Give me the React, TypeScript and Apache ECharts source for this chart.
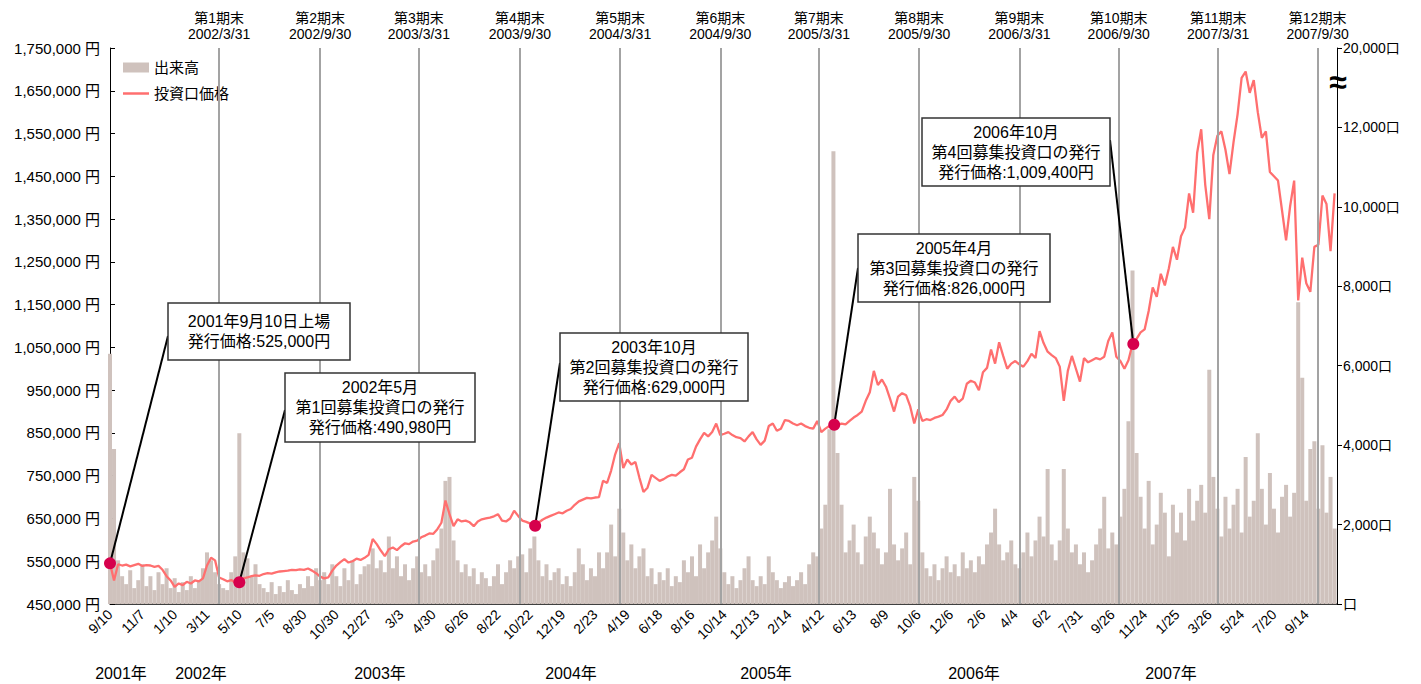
import React, { useEffect, useRef } from 'react';
import * as echarts from 'echarts';

const FONT = "'Liberation Sans','Noto Sans CJK JP',sans-serif";
const N_DAYS = 1518; // trading days on the axis
const STEP = 5; // sample every 5 trading days
const LABEL_EVERY = 40;

const tickLabels = [
  '9/10', '11/7', '1/10', '3/11', '5/10', '7/5', '8/30', '10/30', '12/27', '3/3',
  '4/30', '6/26', '8/22', '10/22', '12/19', '2/23', '4/19', '6/18', '8/16', '10/14',
  '12/13', '2/14', '4/12', '6/13', '8/9', '10/6', '12/6', '2/6', '4/4', '6/2',
  '7/31', '9/26', '11/24', '1/25', '3/26', '5/24', '7/20', '9/14',
];

const periodEndIdx = [135, 260, 382, 507, 631, 755, 877, 1001, 1125, 1248, 1371, 1494];
const periodNames = ['第1期末', '第2期末', '第3期末', '第4期末', '第5期末', '第6期末', '第7期末', '第8期末', '第9期末', '第10期末', '第11期末', '第12期末'];
const periodDates = ['2002/3/31', '2002/9/30', '2003/3/31', '2003/9/30', '2004/3/31', '2004/9/30', '2005/3/31', '2005/9/30', '2006/3/31', '2006/9/30', '2007/3/31', '2007/9/30'];

const yearLabels = ['2001年', '2002年', '2003年', '2004年', '2005年', '2006年', '2007年'];
const yearLabelX = [121, 201, 380, 571, 766, 974, 1171];

const rightTickLabels = ['口', '2,000口', '4,000口', '6,000口', '8,000口', '10,000口', '12,000口', '20,000口'];

// 投資口価格 (千円), sampled every 5 trading days
const priceK = [
  545, 505, 543, 540, 542, 538, 541, 544, 539, 541,
  540, 537, 539, 530, 515, 505, 490, 498, 494, 502,
  498, 505, 503, 510, 540, 558, 552, 512, 508, 503,
  506, 500, 501, 510, 512, 515, 517, 516, 520, 522,
  521, 524, 526, 527, 528, 530, 529, 531, 530, 533,
  528, 522, 514, 510, 512, 528, 540, 548, 555, 547,
  550, 556, 553, 558, 565, 602, 590, 575, 562, 578,
  582, 576, 585, 592, 590, 596, 598, 606, 610, 615,
  614, 625, 640, 692, 660, 632, 648, 643, 645, 641,
  632, 643, 648, 650, 652, 655, 660, 645, 643, 650,
  668, 656, 645, 642, 638, 633, 640, 647, 652, 656,
  660, 664, 662, 668, 672, 682, 690, 694, 698, 697,
  699, 700, 738, 733, 762, 800, 826, 768, 788, 776,
  782, 745, 712, 722, 752, 745, 738, 742, 748, 752,
  750, 758, 765, 788, 792, 818, 835, 850, 842, 852,
  872, 845, 848, 852, 845, 840, 838, 830, 842, 852,
  835, 822, 832, 866, 872, 855, 860, 880, 878, 872,
  868, 872, 866, 862, 860, 878, 852, 860, 866, 870,
  868, 872, 870, 878, 886, 892, 900, 925, 945, 995,
  962, 975, 958, 930, 900, 935, 943, 938, 912, 872,
  905, 878, 882, 880, 885, 888, 892, 905, 925, 935,
  922, 930, 965, 972, 968, 950, 992, 1002, 1045, 1012,
  1062, 1030, 1000, 1012, 1018, 1010, 1005, 1018, 1035, 1025,
  1088, 1060, 1040, 1032, 1025, 1005, 925, 995, 1030, 1000,
  970, 1025, 1015, 1020, 1025, 1022, 1028, 1065, 1085, 1028,
  1018, 1000, 1020, 1058, 1070, 1085, 1092, 1135, 1190, 1168,
  1222, 1195, 1235, 1285, 1255, 1310, 1330, 1410, 1365, 1505,
  1560, 1430, 1350, 1500, 1545, 1555, 1512, 1455, 1530, 1595,
  1680, 1695, 1645, 1675, 1600, 1540, 1555, 1460, 1450, 1440,
  1370, 1300, 1380, 1440, 1160, 1260, 1200, 1180, 1285, 1290,
  1405, 1385, 1275, 1410,
];

// 出来高 (口), sampled every 5 trading days
const volume = [
  6300, 3900, 1100, 700, 500, 850, 400, 600, 1000, 450,
  700, 350, 800, 500, 900, 400, 650, 300, 550, 350,
  700, 400, 600, 900, 1300, 1100, 800, 500, 400, 350,
  800, 1200, 4300, 1300, 1150, 700, 1000, 500, 400, 300,
  550, 250, 450, 300, 600, 350, 250, 500, 400, 700,
  450, 900, 600, 800, 500, 1000, 700, 450, 900, 600,
  1100, 500, 750, 950, 1000, 1400, 900, 1100, 800, 1700,
  900, 1200, 700, 1000, 600, 900, 1200, 800, 1000, 700,
  1100, 1400, 1900, 3100, 3200, 1600, 1100, 800, 1000, 700,
  900, 500, 800, 650, 450, 700, 1000, 500, 800, 1100,
  900, 1200, 1250, 800, 1400, 1700, 1100, 700, 1000, 600,
  800, 900, 500, 700, 450, 800, 1400, 1000, 600, 900,
  700, 1300, 900, 1300, 2000, 1200, 2400, 1800, 1100, 1500,
  900, 1200, 1400, 700, 900, 500, 800, 600, 900, 450,
  700, 550, 1100, 800, 1200, 700, 1500, 900, 1300, 1600,
  2200, 1400, 800, 500, 700, 400, 600, 900, 1200, 600,
  450, 700, 500, 1200, 800, 600, 400, 550, 700, 450,
  600, 800, 500, 1000, 1300, 1200, 1900, 2500, 4400, 11400,
  3800, 2500, 1300, 1600, 2000, 1300, 1000, 1700, 2200, 1800,
  1400, 1000, 1300, 2900, 1500, 1100, 1400, 1800, 1000, 3200,
  2600, 1300, 900, 700, 1000, 600, 900, 1200, 800, 1000,
  700, 1300, 900, 1100, 800, 1200, 1000, 1500, 1800, 2400,
  1500, 1100, 1300, 1600, 1000, 900, 1300, 1800, 1200, 1600,
  2200, 1700, 3400, 1500, 1100, 1600, 3400, 1900, 1300, 1500,
  1000, 1300, 800, 1100, 1500, 1900, 2700, 1400, 1800, 1500,
  2200, 2900, 4600, 8400, 3800, 2700, 1900, 3100, 1500, 2000,
  2800, 2300, 1200, 2500, 1800, 2300, 1600, 2900, 2100, 2600,
  3000, 2300, 5900, 3200, 2400, 1700, 2700, 1900, 2500, 2900,
  1800, 3700, 2200, 2600, 4300, 2900, 2000, 3300, 2400, 1800,
  2700, 3000, 2200, 2800, 7600, 5700, 2600, 3900, 4100, 2400,
  4000, 2300, 3200, 1900,
];

// offering events: trading-day index, price (千円), text
const issueIdx = [0, 160, 526, 896, 1266];
const issuePriceK = [545, 501, 633, 869, 1058];
const issueTexts = [
  ['2001年9月10日上場', '発行価格:525,000円'],
  ['2002年5月', '第1回募集投資口の発行', '発行価格:490,980円'],
  ['2003年10月', '第2回募集投資口の発行', '発行価格:629,000円'],
  ['2005年4月', '第3回募集投資口の発行', '発行価格:826,000円'],
  ['2006年10月', '第4回募集投資口の発行', '発行価格:1,009,400円'],
];

// callout box layout (pixels) and leader-line anchor on the box
const boxLayout = [
  { x: 168, y: 303, w: 182, h: 57, ax: 168, ay: 336 },
  { x: 285, y: 373, w: 190, h: 69, ax: 285, ay: 410 },
  { x: 560, y: 333, w: 188, h: 68, ax: 560, ay: 363 },
  { x: 858, y: 234, w: 192, h: 68, ax: 858, ay: 268 },
  { x: 922, y: 118, w: 188, h: 68, ax: 1110, ay: 140 },
];

const legendText = { fontSize: 15, color: '#000', fontFamily: FONT };

export default function App() {
  const ref = useRef<HTMLDivElement>(null);

  useEffect(() => {
    document.body.style.margin = '0';
    const chart = echarts.init(ref.current!, null, { renderer: 'svg' });

    const option: any = {
      animation: false,
      textStyle: { fontFamily: FONT },
      grid: { left: 110, right: 84, top: 48, bottom: 80 },
      legend: [
        {
          left: 118,
          top: 55,
          itemWidth: 26,
          itemHeight: 10,
          textStyle: legendText,
          data: [{ name: '出来高', icon: 'rect' }],
        },
        {
          left: 118,
          top: 81,
          itemWidth: 26,
          itemHeight: 2.5,
          textStyle: legendText,
          data: [{ name: '投資口価格', icon: 'rect' }],
        },
      ],
      xAxis: {
        type: 'value',
        min: 0,
        max: N_DAYS,
        interval: LABEL_EVERY,
        splitLine: { show: false },
        axisTick: { show: false },
        axisLine: { lineStyle: { color: '#000', width: 1.5 } },
        axisLabel: {
          rotate: 45,
          margin: 8,
          fontSize: 14,
          color: '#000',
          fontFamily: FONT,
          showMaxLabel: false,
          formatter: (v: number) => tickLabels[v / LABEL_EVERY] ?? '',
        },
      },
      yAxis: [
        {
          type: 'value',
          min: 450,
          max: 1750,
          interval: 100,
          position: 'left',
          splitLine: { show: false },
          axisLine: { show: true, lineStyle: { color: '#000' } },
          axisTick: { show: true, inside: true, length: 5, lineStyle: { color: '#000' } },
          axisLabel: {
            fontSize: 15,
            color: '#000',
            fontFamily: FONT,
            margin: 10,
            formatter: (v: number) => (v * 1000).toLocaleString('en-US') + ' 円',
          },
        },
        {
          type: 'value',
          min: 0,
          max: 14000,
          interval: 2000,
          position: 'right',
          splitLine: { show: false },
          axisLine: { show: true, lineStyle: { color: '#000' } },
          axisTick: { show: true, length: 5, lineStyle: { color: '#000' } },
          axisLabel: {
            fontSize: 14,
            color: '#000',
            fontFamily: FONT,
            margin: 6,
            formatter: (v: number) => rightTickLabels[Math.round(v / 2000)] ?? '',
          },
        },
      ],
      series: [
        {
          name: '出来高',
          type: 'bar',
          yAxisIndex: 1,
          barWidth: 4,
          z: 2,
          itemStyle: { color: '#cfc2bd' },
          data: volume.map((v, k) => [k * STEP, v]),
          markLine: {
            silent: true,
            symbol: 'none',
            animation: false,
            lineStyle: { color: '#a3a3a3', width: 2, type: 'solid' },
            label: {
              show: true,
              position: 'end',
              distance: 6,
              fontSize: 14,
              lineHeight: 16,
              color: '#000',
              fontFamily: FONT,
            },
            data: periodEndIdx.map((x, i) => ({
              xAxis: x,
              label: { formatter: periodNames[i] + '\n' + periodDates[i] },
            })),
          },
        },
        {
          name: '投資口価格',
          type: 'line',
          yAxisIndex: 0,
          z: 3,
          symbol: 'none',
          lineStyle: { color: '#ff6f6f', width: 2.3 },
          itemStyle: { color: '#ff6f6f' },
          data: priceK.map((v, k) => [k * STEP, v]),
        },
        {
          name: 'issues',
          type: 'scatter',
          yAxisIndex: 0,
          z: 8,
          clip: false,
          symbolSize: 12,
          itemStyle: { color: '#d6004c', opacity: 1 },
          data: issueIdx.map((x, i) => [x, issuePriceK[i]]),
        },
      ],
    };

    chart.setOption(option);

    const graphics: any[] = [];
    issueTexts.forEach((lines, i) => {
      const b = boxLayout[i];
      const p = chart.convertToPixel({ seriesIndex: 2 }, [issueIdx[i], issuePriceK[i]]) as number[];
      graphics.push({
        type: 'line',
        z: 5,
        shape: { x1: b.ax, y1: b.ay, x2: p[0], y2: p[1] },
        style: { stroke: '#000', lineWidth: 2 },
      });
      graphics.push({
        type: 'rect',
        z: 10,
        shape: { x: b.x, y: b.y, width: b.w, height: b.h },
        style: { fill: '#fff', stroke: '#333', lineWidth: 1.5 },
      });
      graphics.push({
        type: 'text',
        z: 11,
        style: {
          text: lines.join('\n'),
          x: b.x + b.w / 2,
          y: b.y + b.h / 2,
          textAlign: 'center',
          textVerticalAlign: 'middle',
          fontSize: 16,
          lineHeight: 20,
          fontFamily: FONT,
          fill: '#000',
        },
      });
    });
    yearLabels.forEach((t, i) => {
      graphics.push({
        type: 'text',
        z: 11,
        style: {
          text: t,
          x: yearLabelX[i],
          y: 673,
          textAlign: 'center',
          textVerticalAlign: 'middle',
          fontSize: 16,
          fontFamily: FONT,
          fill: '#000',
        },
      });
    });
    graphics.push({
      type: 'text',
      z: 12,
      style: {
        text: '≈',
        x: 1338,
        y: 82,
        textAlign: 'center',
        textVerticalAlign: 'middle',
        fontSize: 32,
        fontWeight: 'bold',
        fontFamily: FONT,
        fill: '#000',
      },
    });
    chart.setOption({ graphic: graphics });

    return () => chart.dispose();
  }, []);

  return <div ref={ref} style={{ width: 1421, height: 684 }} />;
}
